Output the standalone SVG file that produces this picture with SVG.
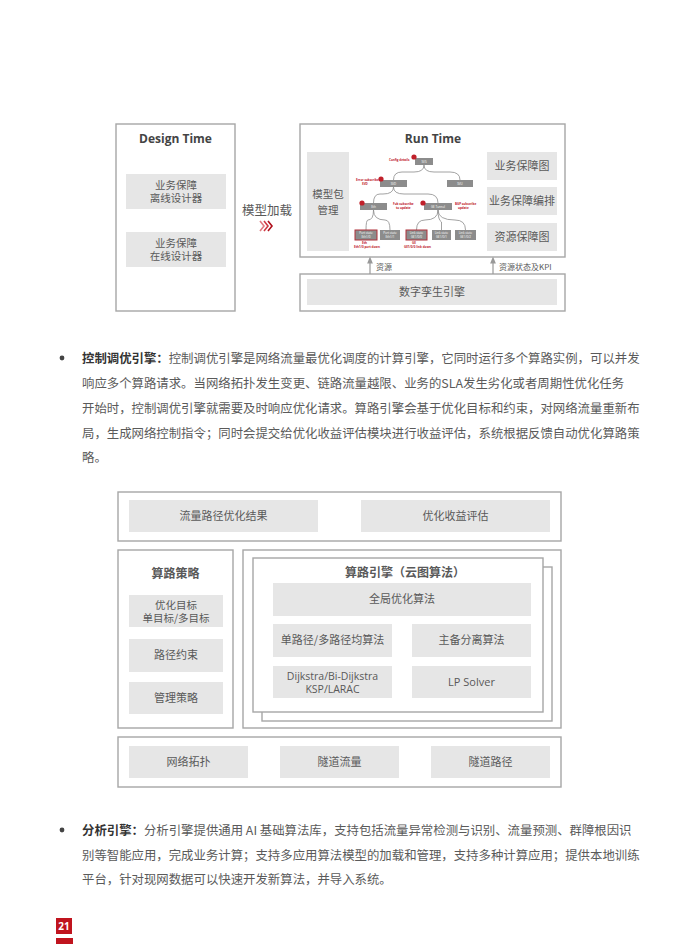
<svg xmlns="http://www.w3.org/2000/svg" width="680" height="944" viewBox="0 0 680 944">
<defs>
<style>
.frame{fill:#fff;stroke:#a6a6a6;stroke-width:1.4}
.blk{fill:#e6e6e6}
.t{font-family:"Noto Sans CJK SC","Open Sans",sans-serif;fill:#595959;text-anchor:middle}
.ttl{font-family:"Open Sans","Noto Sans CJK SC",sans-serif;font-weight:bold;fill:#444;text-anchor:middle}
.p{font-family:"Noto Sans CJK SC",sans-serif;font-size:12.4px;fill:#5a5a5a}
.pb{font-weight:bold;fill:#333}
.tn{fill:#8c8c8c}
.tnr{fill:#8c8c8c;stroke:#b0303a;stroke-width:1}
.tt{font-family:"Open Sans",sans-serif;font-size:3px;fill:#fff;text-anchor:middle}
.rt{font-family:"Open Sans",sans-serif;font-size:3px;fill:#c0202a;font-weight:bold}
.rd{fill:#c0202a}
.cn{fill:none;stroke:#8c8c8c;stroke-width:0.8}
.ar{fill:none;stroke:#999;stroke-width:1.2}
</style>
<marker id="ah" viewBox="0 0 10 10" refX="5" refY="5" markerWidth="6" markerHeight="6" orient="auto-start-reverse">
<path d="M0,1 L10,5 L0,9 z" fill="#999"/>
</marker>
</defs>
<rect width="680" height="944" fill="#fff"/>

<!-- Top diagram -->
<g id="design-time">
<rect class="frame" x="116" y="124" width="119" height="187"/>
<text class="ttl" x="175.5" y="143" font-size="12">Design Time</text>
</g>
<g id="offline-designer">
<rect class="blk" x="126" y="174" width="100" height="35"/>
<text class="t" font-size="10.5" x="176" y="188.5">业务保障</text>
<text class="t" font-size="10.5" x="176" y="202">离线设计器</text>
</g>
<g id="online-designer">
<rect class="blk" x="126" y="232" width="100" height="35"/>
<text class="t" font-size="10.5" x="176" y="246.5">业务保障</text>
<text class="t" font-size="10.5" x="176" y="260">在线设计器</text>
</g>
<g id="model-load">
<text class="t" font-size="12.5" x="267" y="215">模型加载</text>
<polyline points="260,221 264,226 260,231" fill="none" stroke="#e07a80" stroke-width="1.6"/>
<polyline points="264,221 268,226 264,231" fill="none" stroke="#d03a44" stroke-width="1.6"/>
<polyline points="268,221 272,226 268,231" fill="none" stroke="#b0101c" stroke-width="1.6"/>
</g>
<g id="run-time">
<rect class="frame" x="300" y="124" width="265" height="133"/>
<text class="ttl" x="433" y="143" font-size="12">Run Time</text>
</g>
<g id="model-pkg">
<rect class="blk" x="307" y="152" width="42" height="99"/>
<text class="t" font-size="10.5" x="328" y="198">模型包</text>
<text class="t" font-size="10.5" x="328" y="214">管理</text>
</g>
<g id="svc-graph">
<rect class="blk" x="487" y="152" width="70" height="28"/>
<text class="t" font-size="11" x="522" y="170">业务保障图</text>
</g>
<g id="svc-orch">
<rect class="blk" x="487" y="187" width="70" height="28"/>
<text class="t" font-size="11" x="522" y="205">业务保障编排</text>
</g>
<g id="res-graph">
<rect class="blk" x="487" y="223" width="70" height="28"/>
<text class="t" font-size="11" x="522" y="241">资源保障图</text>
</g>
<g id="digital-twin">
<rect class="frame" x="300" y="274" width="265" height="37"/>
<rect class="blk" x="307" y="279" width="250" height="26"/>
<text class="t" font-size="11" x="432" y="296">数字孪生引擎</text>
</g>

<!-- Tree -->
<g id="tree-connectors">
<path class="cn" d="M424,165 Q424,172 414,172 L402,172 Q393.5,172 393.5,180"/>
<path class="cn" d="M424,165 Q424,172 434,172 L450,172 Q460,172 460,180"/>
<path class="cn" d="M393.5,187 Q393.5,194 383,194 L380,194 Q373.5,194 373.5,203"/>
<path class="cn" d="M393.5,187 Q393.5,194 404,194 L428,194 Q438,194 438,203"/>
<path class="cn" d="M373.5,210 Q373.5,220 368,220 Q366,220 366,230"/>
<path class="cn" d="M373.5,210 Q373.5,220 385,220 Q390,220 390,230"/>
<path class="cn" d="M438,210 Q438,220 425,220 Q416.5,220 416.5,230"/>
<path class="cn" d="M438,210 Q438,220 441.5,222 L441.5,230"/>
<path class="cn" d="M438,210 Q438,220 455,220 Q465.5,220 465.5,230"/>
</g>
<g id="tree-nodes">
<rect class="tn" x="415" y="158" width="18" height="7"/><text class="tt" x="424" y="162.6">SVS</text>
<circle class="rd" cx="414" cy="157" r="2.6"/><text class="rt" x="389" y="161">Config details</text>
<rect class="tn" x="380" y="180" width="27" height="7"/><text class="tt" x="393.5" y="184.6">SVD</text>
<circle class="rd" cx="381" cy="179" r="2.6"/><text class="rt" x="356" y="181">Error subscribe</text><text class="rt" x="362" y="185">SVD</text>
<rect class="tn" x="447" y="180" width="26" height="7"/><text class="tt" x="460" y="184.6">SVU</text>
<rect class="tn" x="360" y="203" width="27" height="7"/><text class="tt" x="373.5" y="207.6">Eth</text>
<circle class="rd" cx="362" cy="203" r="2.6"/>
<rect class="tn" x="424" y="203" width="28" height="7"/><text class="tt" x="438" y="207.6">GE Tunnel</text>
<circle class="rd" cx="423" cy="203" r="2.6"/>
<text class="rt" x="393" y="205">Fub subscribe</text><text class="rt" x="396" y="209">to update</text>
<text class="rt" x="455" y="205">BGP subscribe</text><text class="rt" x="458" y="209">update</text>
<rect class="tnr" x="355" y="230" width="22" height="10"/><text class="tt" x="366" y="234">Port state</text><text class="tt" x="366" y="238">Eth1/0</text>
<rect class="tn" x="380" y="230" width="20" height="10"/><text class="tt" x="390" y="234">Port state</text><text class="tt" x="390" y="238">Eth1/1</text>
<rect class="tnr" x="406" y="230" width="21" height="10"/><text class="tt" x="416.5" y="234">Link state</text><text class="tt" x="416.5" y="238">GE1/0/0</text>
<rect class="tn" x="432" y="230" width="19" height="10"/><text class="tt" x="441.5" y="234">Link state</text><text class="tt" x="441.5" y="238">GE1/0/1</text>
<rect class="tn" x="455" y="230" width="21" height="10"/><text class="tt" x="465.5" y="234">Link state</text><text class="tt" x="465.5" y="238">GE1/0/2</text>
<text class="rt" x="362" y="244">Eth</text><text class="rt" x="354" y="248">Eth1/0 port down</text>
<text class="rt" x="412" y="244">GE</text><text class="rt" x="404" y="248">GE1/0/0 link down</text>
</g>

<g id="top-connectors">
<line class="ar" x1="370" y1="274" x2="370" y2="260" marker-end="url(#ah)"/>
<line class="ar" x1="493" y1="274" x2="493" y2="260" marker-end="url(#ah)"/>
<text class="t" font-size="8" x="376" y="270" style="text-anchor:start">资源</text>
<text class="t" font-size="8" x="499" y="270" style="text-anchor:start">资源状态及KPI</text>
</g>

<!-- Paragraph 1 -->
<g id="para1">
<circle cx="62" cy="358" r="2.4" fill="#444"/>
<text class="p" x="82" y="363"><tspan class="pb">控制调优引擎：</tspan>控制调优引擎是网络流量最优化调度的计算引擎，它同时运行多个算路实例，可以并发</text>
<text class="p" x="82" y="388">响应多个算路请求。当网络拓扑发生变更、链路流量越限、业务的SLA发生劣化或者周期性优化任务</text>
<text class="p" x="82" y="413">开始时，控制调优引擎就需要及时响应优化请求。算路引擎会基于优化目标和约束，对网络流量重新布</text>
<text class="p" x="82" y="438">局，生成网络控制指令；同时会提交给优化收益评估模块进行收益评估，系统根据反馈自动优化算路策</text>
<text class="p" x="82" y="462">略。</text>
</g>

<!-- Bottom diagram -->
<g id="results">
<rect class="frame" x="118" y="492" width="443" height="49"/>
</g>
<g id="flow-result">
<rect class="blk" x="129" y="500" width="189" height="32"/>
<text class="t" font-size="11" x="223.5" y="520">流量路径优化结果</text>
</g>
<g id="gain-eval">
<rect class="blk" x="361" y="500" width="189" height="32"/>
<text class="t" font-size="11" x="455.5" y="520">优化收益评估</text>
</g>
<g id="strategy">
<rect class="frame" x="118" y="550" width="115" height="178"/>
<text class="t" font-size="12" font-weight="bold" x="175.5" y="578" fill="#444">算路策略</text>
</g>
<g id="opt-target">
<rect class="blk" x="129" y="595" width="94" height="32"/>
<text class="t" font-size="10.5" x="176" y="608.5">优化目标</text>
<text class="t" font-size="10.5" x="176" y="622">单目标/多目标</text>
</g>
<g id="path-constraint">
<rect class="blk" x="129" y="639" width="94" height="33"/>
<text class="t" font-size="11" x="176" y="659">路径约束</text>
</g>
<g id="mgmt-strategy">
<rect class="blk" x="129" y="682" width="94" height="32"/>
<text class="t" font-size="11" x="176" y="702">管理策略</text>
</g>
<g id="engine">
<rect class="frame" x="243" y="550" width="318" height="178"/>
<rect class="frame" x="262" y="567" width="290" height="154"/>
<rect class="frame" x="253" y="558" width="290" height="154"/>
<text class="t" font-size="12" font-weight="bold" x="405" y="577" fill="#444">算路引擎（云图算法）</text>
</g>
<g id="global-opt">
<rect class="blk" x="273" y="583" width="258" height="33"/>
<text class="t" font-size="11" x="402" y="603">全局优化算法</text>
</g>
<g id="single-multi">
<rect class="blk" x="273" y="624" width="119" height="33"/>
<text class="t" font-size="11" x="332.5" y="644">单路径/多路径均算法</text>
</g>
<g id="primary-backup">
<rect class="blk" x="412" y="624" width="119" height="33"/>
<text class="t" font-size="11" x="471.5" y="644">主备分离算法</text>
</g>
<g id="dijkstra">
<rect class="blk" x="273" y="666" width="119" height="32"/>
<text class="t" font-size="10.5" x="332.5" y="679.5" style="font-family:'Open Sans',sans-serif">Dijkstra/Bi-Dijkstra</text>
<text class="t" font-size="10.5" x="332.5" y="693" style="font-family:'Open Sans',sans-serif">KSP/LARAC</text>
</g>
<g id="lp-solver">
<rect class="blk" x="412" y="666" width="119" height="32"/>
<text class="t" font-size="11" x="471.5" y="686" style="font-family:'Open Sans',sans-serif">LP Solver</text>
</g>
<g id="inputs">
<rect class="frame" x="118" y="737" width="443" height="50"/>
</g>
<g id="topology">
<rect class="blk" x="129" y="746" width="119" height="32"/>
<text class="t" font-size="11" x="188.5" y="766">网络拓扑</text>
</g>
<g id="tunnel-flow">
<rect class="blk" x="280" y="746" width="119" height="32"/>
<text class="t" font-size="11" x="339.5" y="766">隧道流量</text>
</g>
<g id="tunnel-path">
<rect class="blk" x="431" y="746" width="119" height="32"/>
<text class="t" font-size="11" x="490.5" y="766">隧道路径</text>
</g>

<!-- Paragraph 2 -->
<g id="para2">
<circle cx="62" cy="830" r="2.4" fill="#444"/>
<text class="p" x="82" y="835"><tspan class="pb">分析引擎：</tspan>分析引擎提供通用 AI 基础算法库，支持包括流量异常检测与识别、流量预测、群障根因识</text>
<text class="p" x="82" y="860">别等智能应用，完成业务计算；支持多应用算法模型的加载和管理，支持多种计算应用；提供本地训练</text>
<text class="p" x="82" y="884">平台，针对现网数据可以快速开发新算法，并导入系统。</text>
</g>

<g id="page-number">
<rect x="56" y="918" width="16" height="16" fill="#c0141e"/>
<text x="64" y="930" font-family="'Open Sans',sans-serif" font-size="10" font-weight="bold" fill="#fff" text-anchor="middle">21</text>
<rect x="56" y="938" width="17" height="6" fill="#c0141e"/>
</g>
</svg>
